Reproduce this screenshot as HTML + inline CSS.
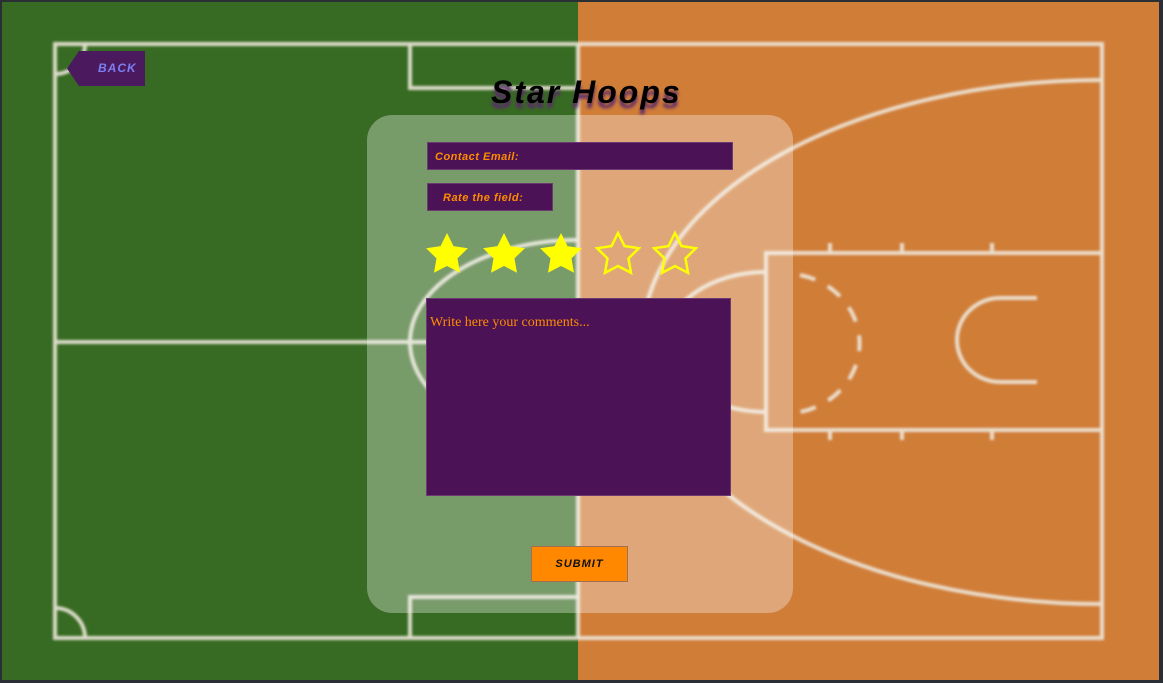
<!DOCTYPE html>
<html><head><meta charset="utf-8"><style>
body{margin:0;width:1163px;height:683px;overflow:hidden;background:#2a2f36;font-family:"Liberation Sans",sans-serif}
#bg{position:absolute;left:0;top:0}
.abs{position:absolute}
#panel{left:367px;top:115px;width:426px;height:498px;border-radius:25px;background:rgba(255,255,255,0.33)}
.lbl{background:#4b1255;color:#ff8c00;font-weight:bold;font-style:italic;font-size:11px;border:1px solid #6a3a70;box-sizing:border-box;letter-spacing:0.5px}
</style></head><body>
<svg id="bg" width="1163" height="683">
<defs><filter id="bl"><feGaussianBlur stdDeviation="1.2"/></filter></defs>
<rect x="2" y="2" width="576" height="678" fill="#376a22"/>
<rect x="578" y="2" width="581" height="678" fill="#d07d38"/>
<g fill="none" stroke="#eee8dc" stroke-width="4" filter="url(#bl)" opacity="0.9">
<rect x="55" y="44" width="1047" height="594"/>
<line x1="578" y1="44" x2="578" y2="638"/>
<polyline points="410,44 410,88 578,88"/>
<polyline points="410,638 410,597 578,597"/>
<line x1="55" y1="342" x2="578" y2="342"/>
<path d="M578,240 A168,102 0 0 0 578,444"/>
<path d="M85,44 A30,30 0 0 1 55,74"/>
<path d="M55,608 A30,30 0 0 1 85,638"/>
<path d="M1102,80 A460,262 0 0 0 1102,604"/>
<rect x="766" y="253" width="336" height="177"/>
<path d="M766,272 A100,70 0 0 0 766,412"/>
<path d="M800,275 A75,70 0 0 1 800,412" stroke-dasharray="16,14"/>
<path d="M1037,298 L1000,298 A43,42 0 0 0 1000,382 L1037,382"/>
<line x1="830" y1="243" x2="830" y2="253"/><line x1="902" y1="243" x2="902" y2="253"/><line x1="992" y1="243" x2="992" y2="253"/>
<line x1="830" y1="430" x2="830" y2="440"/><line x1="902" y1="430" x2="902" y2="440"/><line x1="992" y1="430" x2="992" y2="440"/>
</g>
</svg>
<div class="abs" style="left:67px;top:51px;width:78px;height:35px;background:#4b1a5e;clip-path:polygon(12px 0,100% 0,100% 100%,12px 100%,0 50%);color:#7b7ff0;font-weight:bold;font-style:italic;font-size:12px;line-height:35px;text-indent:31px;letter-spacing:1px">BACK</div>
<div class="abs" style="left:491px;top:74px;font-size:32px;font-weight:bold;font-style:italic;letter-spacing:2px;color:#000;text-shadow:0 5px 3px #5a2a6a">Star Hoops</div>
<div class="abs" id="panel"></div>
<div class="abs lbl" style="left:427px;top:142px;width:306px;height:28px;line-height:28px;padding-left:7px">Contact Email:</div>
<div class="abs lbl" style="left:427px;top:183px;width:126px;height:28px;line-height:28px;padding-left:15px">Rate the field:</div>
<svg class="abs" style="left:425px;top:230px" width="280" height="48">
<defs><path id="st" d="M0,-22 L6.5,-8.9 L20.9,-6.8 L10.5,3.4 L13,17.8 L0,11 L-13,17.8 L-10.5,3.4 L-20.9,-6.8 L-6.5,-8.9Z"/></defs>
<use href="#st" x="22" y="25" fill="#ffff00"/>
<use href="#st" x="79" y="25" fill="#ffff00"/>
<use href="#st" x="136" y="25" fill="#ffff00"/>
<use href="#st" x="193" y="25" fill="none" stroke="#ffff00" stroke-width="2.5"/>
<use href="#st" x="250" y="25" fill="none" stroke="#ffff00" stroke-width="2.5"/>
</svg>
<div class="abs" style="left:426px;top:298px;width:305px;height:198px;background:#4b1255;border:1px solid #6a3a70;box-sizing:border-box;color:#ff8c00;font-family:'Liberation Serif',serif;font-size:14px;padding:16px 3px">Write here your comments...</div>
<div class="abs" style="left:531px;top:546px;width:97px;height:36px;background:#ff8800;border:1px solid #a07050;box-sizing:border-box;text-align:center;line-height:34px;font-size:11px;font-weight:bold;font-style:italic;letter-spacing:1px;color:#111">SUBMIT</div>
</body></html>
